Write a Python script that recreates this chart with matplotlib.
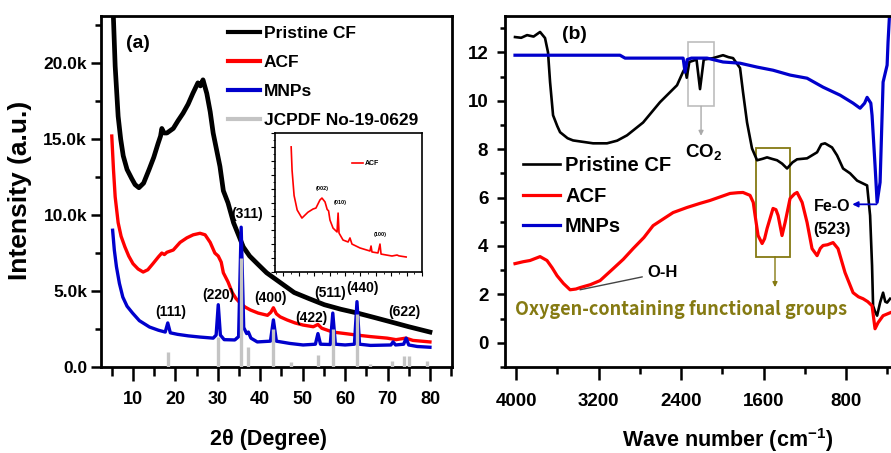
import numpy as np
import matplotlib
matplotlib.use('Agg')
import matplotlib.pyplot as plt
from matplotlib.ticker import MultipleLocator, FuncFormatter, NullFormatter
from matplotlib.lines import Line2D
from matplotlib.patches import Rectangle

plt.rcParams['font.family'] = ['Liberation Sans', 'DejaVu Sans']
plt.rcParams['font.weight'] = 'bold'
plt.rcParams['mathtext.fontset'] = 'custom'
plt.rcParams['mathtext.rm'] = 'Liberation Sans:bold'
plt.rcParams['mathtext.it'] = 'Liberation Sans:bold'
plt.rcParams['mathtext.bf'] = 'Liberation Sans:bold'

# ---- XRD (a) ----
cf_2t = np.array([5.0, 5.8, 6.5, 7.1, 7.7, 8.6, 9.7, 10.5, 11.4, 12.5, 13.8, 14.9, 15.9, 16.5, 16.8,
                  17.3, 18.0, 19.5, 20.6, 21.8, 23.0, 24.1, 25.3, 25.9, 26.5, 27.4, 28.2, 28.9, 30.5,
                  31.3, 32.4, 33.7, 35.0, 36.0, 37.5, 39.3, 41.5, 44.0, 46.0, 48.0, 51.5, 55.1, 59.0,
                  62.9, 67.0, 70.9, 75.0, 80.0])
cf_int = np.array([26000, 19800, 16500, 15000, 13900, 13000, 12400, 12000, 11800, 12100, 13000, 13800,
                   14700, 15200, 15700, 15400, 15400, 15700, 16200, 16700, 17300, 18000, 18700, 18500,
                   18900, 18000, 16800, 15400, 13200, 11600, 10800, 9500, 8600, 7900, 7300, 6800, 6200,
                   5700, 5300, 4900, 4500, 4100, 3800, 3550, 3250, 2960, 2650, 2300])

acf_2t = np.array([5.0, 5.4, 5.8, 6.5, 7.2, 8.1, 9.0, 10.0, 11.2, 12.4, 13.5, 14.7, 16.0, 16.8, 17.4,
                   18.0, 19.5, 21.1, 22.7, 24.2, 25.8, 27.0, 28.2, 29.3, 30.1, 30.8, 31.3, 32.4, 33.4,
                   34.3, 35.3, 36.4, 37.7, 39.5, 41.7, 42.5, 43.1, 43.8, 44.7, 46.3, 48.2, 50.1, 52.5,
                   53.6, 54.5, 57.1, 60.0, 62.8, 66.0, 69.9, 72.0, 74.3, 76.0, 80.0])
acf_int = np.array([15200, 13000, 11200, 9500, 8600, 7900, 7300, 6800, 6450, 6250, 6400, 6800, 7250,
                    7500, 7400, 7550, 7700, 8200, 8500, 8700, 8800, 8700, 8200, 7500, 7300, 6900, 6200,
                    5600, 4900, 4500, 4200, 3950, 3750, 3550, 3400, 3600, 3900, 3500, 3300, 3100, 2900,
                    2760, 2650, 2800, 2550, 2300, 2200, 2100, 2000, 1900, 1800, 1900, 1750, 1650])

mnp_2t = np.array([5.2, 5.6, 6.1, 6.8, 7.6, 8.6, 9.9, 11.5, 13.9, 16.0, 17.6, 18.2, 18.8, 20.5, 23.0,
                   25.8, 28.9, 29.6, 30.1, 30.6, 31.5, 34.0, 34.9, 35.5, 36.1, 36.8, 37.2, 37.8, 39.3,
                   42.4, 43.1, 43.8, 47.0, 50.1, 53.0, 53.6, 54.2, 56.5, 57.1, 57.7, 60.0, 62.2, 62.8,
                   63.4, 66.0, 70.8, 71.3, 71.9, 73.8, 74.4, 75.0, 77.0, 80.0])
mnp_int = np.array([9000, 7700, 6600, 5500, 4600, 4000, 3550, 3050, 2630, 2420, 2300, 2900, 2250, 2150,
                    2050, 1970, 1900, 2100, 4100, 2100, 1800, 1780, 2000, 9200, 2600, 2200, 2300, 1900,
                    1650, 1700, 3100, 1700, 1550, 1450, 1500, 2200, 1500, 1480, 3550, 1500, 1450, 1500,
                    4300, 1500, 1420, 1450, 1650, 1450, 1500, 1900, 1450, 1350, 1300])

jcpds_2t = [18.3, 30.1, 35.5, 37.1, 43.1, 47.2, 53.5, 57.1, 62.7, 65.9, 71.0, 74.0, 75.0, 79.3]
jcpds_int = [1000, 2000, 7200, 1300, 2500, 300, 800, 2500, 3500, 200, 400, 700, 750, 400]

hkl_labels = ['(111)', '(220)', '(311)', '(400)', '(422)', '(511)', '(440)', '(622)']
hkl_x = [18.8, 30.1, 36.9, 42.3, 52.0, 56.4, 64.0, 73.9]
hkl_y = [3600, 4750, 10100, 4550, 3200, 4850, 5200, 3600]

# inset: ACF alone
ins_2t = np.array([5.0, 5.6, 6.9, 8.9, 12.0, 15.9, 19.2, 21.1, 23.7, 25.0, 27.0, 28.4, 29.3, 30.2, 32.2,
                   34.8, 35.5, 36.1, 38.7, 42.0, 43.2, 44.5, 49.7, 56.2, 56.9, 57.5, 61.4, 62.7, 63.4,
                   70.5, 73.8, 75.0, 79.7])
ins_int = np.array([90, 73, 55, 44.6, 38.8, 43, 45.3, 46, 51.8, 53.2, 50.4, 45, 44, 37.4, 31.6, 28.8,
                    42.4, 28, 23, 21.6, 24.5, 20.1, 17.3, 15.1, 18.7, 14.4, 13.7, 20.1, 12.9, 11.5, 12.2,
                    11.6, 10.8])

# ---- FTIR (b) ----
cf_wn = np.array([4010, 3950, 3893, 3830, 3767, 3719, 3690, 3670, 3641, 3600, 3573, 3500, 3447, 3350,
                  3253, 3118, 3020, 2924, 2768, 2604, 2439, 2380, 2361, 2345, 2320, 2250, 2216, 2180,
                  2090, 1993, 1940, 1896, 1828, 1799, 1760, 1712, 1663, 1610, 1566, 1520, 1469, 1420,
                  1372, 1320, 1275, 1178, 1081, 1040, 1004, 936, 887, 829, 761, 693, 635, 596, 567,
                  548, 538, 520, 499, 470, 441, 420, 402, 373])
cf_t = np.array([12.63, 12.6, 12.71, 12.65, 12.84, 12.59, 12.0, 10.77, 9.4, 8.95, 8.7, 8.45, 8.36, 8.3,
                 8.24, 8.24, 8.35, 8.57, 9.1, 9.94, 10.64, 11.2, 11.35, 10.95, 11.6, 11.7, 10.48, 11.7,
                 11.76, 11.88, 11.8, 11.76, 11.35, 10.35, 9.1, 8.03, 7.54, 7.6, 7.66, 7.6, 7.54, 7.4,
                 7.2, 7.45, 7.58, 7.62, 7.87, 8.2, 8.24, 8.07, 7.74, 7.2, 7.0, 6.7, 6.58, 6.5, 5.26,
                 3.19, 1.53, 1.3, 1.12, 1.66, 2.07, 1.7, 1.66, 1.82])

acf_wn = np.array([4010, 3930, 3864, 3767, 3700, 3650, 3602, 3540, 3476, 3420, 3379, 3280, 3185, 3059,
                   2960, 2865, 2760, 2671, 2560, 2477, 2342, 2216, 2119, 1925, 1850, 1799, 1731, 1700,
                   1682, 1653, 1614, 1590, 1566, 1508, 1480, 1459, 1421, 1391, 1343, 1300, 1275, 1226,
                   1178, 1130, 1081, 1050, 1023, 980, 926, 878, 810, 732, 680, 635, 590, 548, 519, 490,
                   441, 373])
acf_t = np.array([3.27, 3.35, 3.4, 3.56, 3.4, 3.1, 2.77, 2.45, 2.19, 2.22, 2.28, 2.4, 2.57, 3.06, 3.45,
                  3.89, 4.35, 4.84, 5.15, 5.38, 5.59, 5.76, 5.88, 6.17, 6.2, 6.21, 6.09, 5.8, 5.26, 4.43,
                  4.1, 4.3, 4.72, 5.55, 5.5, 5.26, 4.43, 4.97, 5.96, 6.15, 6.21, 5.8, 4.97, 3.89, 3.6,
                  3.9, 4.02, 4.05, 4.14, 3.89, 2.9, 2.07, 1.9, 1.82, 1.7, 1.53, 0.58, 0.83, 1.12, 1.24])

mnp_wn = np.array([4010, 3600, 3300, 2992, 2943, 2600, 2380, 2361, 2340, 2300, 2148, 1993, 1828, 1663,
                   1508, 1343, 1178, 1023, 858, 732, 664, 620, 596, 560, 548, 519, 499, 470, 441, 402,
                   393, 373])
mnp_t = np.array([11.88, 11.88, 11.88, 11.88, 11.76, 11.76, 11.76, 11.18, 11.7, 11.76, 11.76, 11.6,
                  11.55, 11.39, 11.26, 11.06, 10.93, 10.56, 10.23, 9.9, 9.69, 9.9, 10.14, 9.9, 9.4, 7.33,
                  5.8, 6.63, 10.77, 11.47, 12.42, 14.0])

W, H = 891, 453
fig = plt.figure(figsize=(W / 100, H / 100), dpi=100)


def px_box(x0, y0, x1, y1):
    return [x0 / W, 1 - y1 / H, (x1 - x0) / W, (y1 - y0) / H]


def style_spines(ax, lw):
    for s in ax.spines.values():
        s.set_linewidth(lw)


# --- left panel ---
ax1 = fig.add_axes(px_box(101, 16, 452, 367))
ax1.plot(cf_2t, cf_int, color='black', lw=3.4, label='Pristine CF')
ax1.plot(acf_2t, acf_int, color='#ff0000', lw=2.4, label='ACF')
ax1.plot(mnp_2t, mnp_int, color='#0000cc', lw=2.4, label='MNPs')
ax1.vlines(jcpds_2t, 0, jcpds_int, color='#c4c4c4', lw=2.4, zorder=3)
ax1.set_xlim(2.46, 85.2)
ax1.set_ylim(0, 23100)
ax1.xaxis.set_major_locator(MultipleLocator(10))
ax1.xaxis.set_minor_locator(MultipleLocator(5))
ax1.yaxis.set_major_locator(MultipleLocator(5000))
ax1.yaxis.set_minor_locator(MultipleLocator(2500))
ax1.yaxis.set_major_formatter(FuncFormatter(lambda v, p: '0.0' if v == 0 else '%.1fk' % (v / 1000)))
ax1.tick_params(axis='x', which='major', direction='out', length=10, width=1.8, labelsize=13, pad=7)
ax1.tick_params(axis='x', which='minor', direction='out', length=6.5, width=1.8)
ax1.tick_params(axis='y', which='major', direction='out', length=7, width=1.8, labelsize=12.5, pad=3)
ax1.tick_params(axis='y', which='minor', direction='out', length=4.5, width=1.8)
style_spines(ax1, 2.0)

for lab, x, y in zip(hkl_labels, hkl_x, hkl_y):
    ax1.text(x, y, lab, ha='center', va='center', fontsize=10)
ax1.text(11.2, 21300, '(a)', ha='center', va='center', fontsize=14)

handles = [Line2D([], [], color='black', lw=3),
           Line2D([], [], color='#ff0000', lw=3),
           Line2D([], [], color='#0000cc', lw=3),
           Line2D([], [], color='#c4c4c4', lw=3)]
ax1.legend(handles, ['Pristine CF', 'ACF', 'MNPs', 'JCPDF No-19-0629'], loc='upper left',
           bbox_to_anchor=(228 / W, 1 - 26 / H), bbox_transform=fig.transFigure,
           frameon=False, fontsize=12.5, handlelength=1.84, handletextpad=0.23,
           borderpad=0, borderaxespad=0, labelspacing=0.8)

# inset
axi = fig.add_axes(px_box(275, 133, 422, 272))
axi.plot(ins_2t, ins_int, color='#ff0000', lw=1.2, label='ACF')
axi.set_xlim(-5.5, 90)
axi.set_ylim(0, 100)
axi.xaxis.set_major_locator(MultipleLocator(10))
axi.xaxis.set_minor_locator(MultipleLocator(5))
axi.yaxis.set_major_locator(MultipleLocator(10))
axi.yaxis.set_minor_locator(MultipleLocator(5))
axi.xaxis.set_major_formatter(NullFormatter())
axi.yaxis.set_major_formatter(NullFormatter())
axi.tick_params(which='major', direction='out', length=3, width=0.8)
axi.tick_params(which='minor', direction='out', length=1.5, width=0.6)
style_spines(axi, 1.2)
axi.text(25, 58, '(002)', ha='center', va='bottom', fontsize=4)
axi.text(37, 48, '(010)', ha='center', va='bottom', fontsize=4)
axi.text(62.7, 25, '(100)', ha='center', va='bottom', fontsize=4)
axi.legend(loc='upper left', bbox_to_anchor=(352 / W, 1 - 160 / H), bbox_transform=fig.transFigure,
           frameon=False, fontsize=5, handlelength=1.6, handletextpad=0.3, borderpad=0, borderaxespad=0)

# --- right panel ---
ax2 = fig.add_axes(px_box(505, 16, 900, 367))
ax2.plot(cf_wn, cf_t, color='black', lw=1.9, label='Pristine CF')
ax2.plot(acf_wn, acf_t, color='#ff0000', lw=2.3, label='ACF')
ax2.plot(mnp_wn, mnp_t, color='#0000cc', lw=2.3, label='MNPs')
ax2.set_xlim(4107, 277)
ax2.set_ylim(-1.0, 13.5)
ax2.xaxis.set_major_locator(MultipleLocator(800))
ax2.xaxis.set_minor_locator(MultipleLocator(400))
ax2.yaxis.set_major_locator(MultipleLocator(2))
ax2.yaxis.set_minor_locator(MultipleLocator(1))
ax2.tick_params(axis='x', which='major', direction='out', length=9.5, width=1.8, labelsize=13.5, pad=9)
ax2.tick_params(axis='x', which='minor', direction='out', length=5, width=1.8)
ax2.tick_params(axis='y', which='major', direction='out', length=6, width=1.8, labelsize=13.5, pad=6)
ax2.tick_params(axis='y', which='minor', direction='out', length=3.5, width=1.8)
style_spines(ax2, 2.0)
ax2.text(3430, 12.75, '(b)', ha='center', va='center', fontsize=14)

ax2.legend(loc='upper left', bbox_to_anchor=(523 / W, 1 - 156 / H), bbox_transform=fig.transFigure,
           frameon=False, fontsize=14.5, handlelength=1.84, handletextpad=0.25, borderpad=0,
           borderaxespad=0, labelspacing=0.58)

# CO2 box
ax2.add_patch(Rectangle((2080, 9.77), 252, 2.65, fill=False, edgecolor='#bdbdbd', lw=1.2))
ax2.annotate('', xy=(2206, 8.55), xytext=(2206, 9.77),
             arrowprops=dict(arrowstyle='-|>', color='#aaaaaa', lw=1.0, mutation_scale=7,
                             shrinkA=0, shrinkB=0))
ax2.text(2185, 7.87, 'CO$_2$', ha='center', va='center', fontsize=13.5)

# oxygen-containing groups box
olive = '#857a12'
ax2.add_patch(Rectangle((1343, 3.56), 330, 4.47, fill=False, edgecolor=olive, lw=1.3))
ax2.annotate('', xy=(1489, 2.3), xytext=(1489, 3.56),
             arrowprops=dict(arrowstyle='-|>', color=olive, lw=1.0, mutation_scale=7,
                             shrinkA=0, shrinkB=0))
ax2.text(2400, 1.37, 'Oxygen-containing functional groups', ha='center', va='center',
         fontsize=13, color=olive, family=['Noto Sans CJK KR', 'DejaVu Sans'], weight='bold')

ax2.annotate('O-H', xy=(3380, 2.19), xytext=(2575, 2.9), ha='center', va='center', fontsize=12,
             arrowprops=dict(arrowstyle='-', color='#444444', lw=1.0, shrinkA=2, shrinkB=0))

ax2.annotate('', xy=(740, 5.72), xytext=(505, 5.72),
             arrowprops=dict(arrowstyle='-|>', color='#0000cc', lw=1.3, mutation_scale=8,
                             shrinkA=0, shrinkB=0))
ax2.text(936, 5.63, 'Fe-O', ha='center', va='center', fontsize=11.5)
ax2.text(936, 4.68, '(523)', ha='center', va='center', fontsize=11.5)

# axis titles
fig.text(268 / W, 1 - 440 / H, '2θ (Degree)', ha='center', va='center', fontsize=15.5)
fig.text(728 / W, 1 - 440 / H, 'Wave number (cm$^{-1}$)', ha='center', va='center', fontsize=15.5)
fig.text(20 / W, 1 - 190 / H, 'Intensity (a.u.)', ha='center', va='center', rotation=90, fontsize=19)

fig.savefig('out.png', dpi=100)
